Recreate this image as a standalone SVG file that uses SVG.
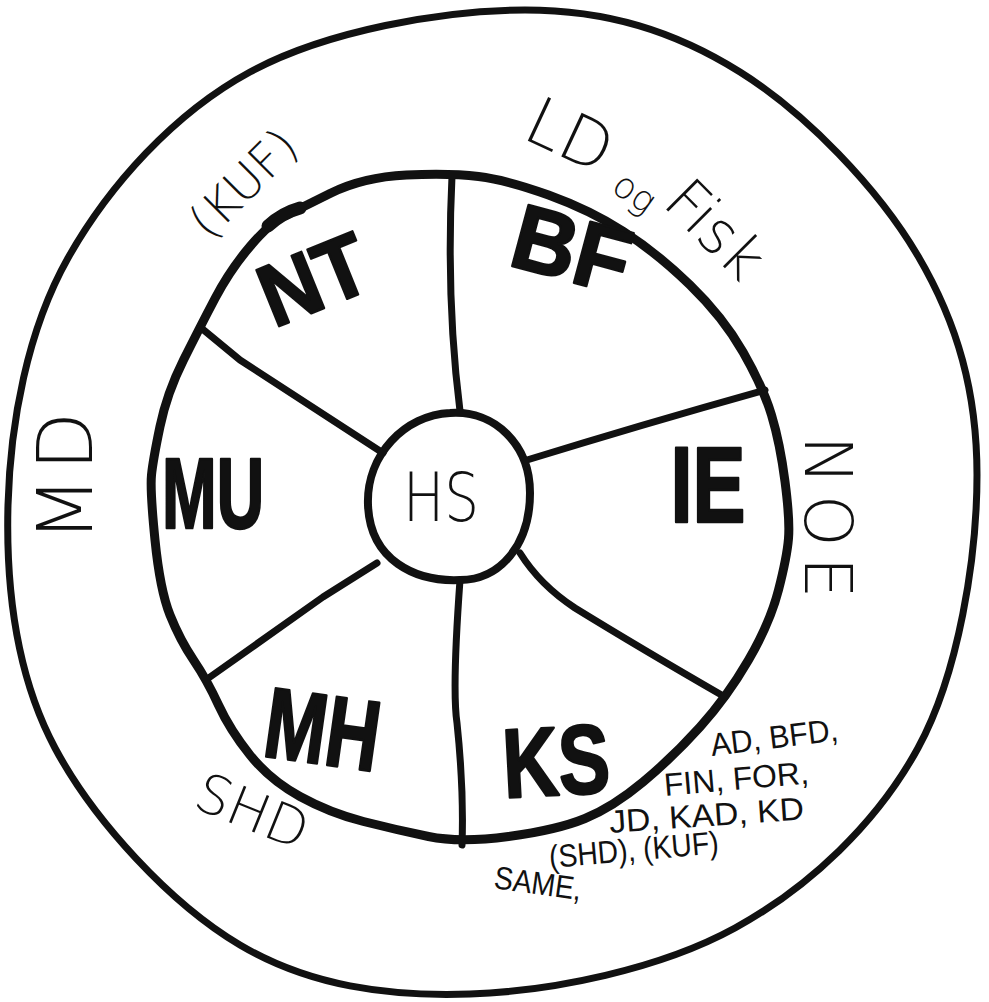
<svg xmlns="http://www.w3.org/2000/svg" width="989" height="1002" viewBox="0 0 989 1002">
<style>
.ln{fill:none;stroke:#111;stroke-linecap:round;stroke-linejoin:round}
.big{font-family:"Liberation Sans",Arial,sans-serif;font-weight:bold;fill:#111;stroke:#111;stroke-width:2.5;stroke-linejoin:round;text-anchor:middle}
.thin{font-family:"DejaVu Sans",sans-serif;font-weight:200;fill:#111;text-anchor:middle}
.sm{font-family:"Liberation Sans",Arial,sans-serif;font-size:32px;fill:#111;text-anchor:start}
</style>
<rect width="989" height="1002" fill="#fff"/>
<g id="connectors">
<path class="ln" stroke-width="7" d="M452,176 Q446,300 460,411"/>
<path class="ln" stroke-width="7" d="M200,327 L240,360 L383,453"/>
<path class="ln" stroke-width="7" d="M527,460 Q640,425 765,390"/>
<path class="ln" stroke-width="7" d="M520,553 Q540,585 575,608 Q640,648 725,697"/>
<path class="ln" stroke-width="7" d="M460,580 Q452,690 457,723 Q464,790 462,845"/>
<path class="ln" stroke-width="7" d="M377,563 L323,597 L210,677"/>
</g>
<g id="outer"><path class="ln" stroke-width="7" d="M977,475 C977,557 958.8,673.3 918,748 C877.2,822.7 809.7,887 735,928 C660.3,969 552.5,991.2 470,994 C387.5,996.8 309.2,986 240,945 C170.8,904 94.2,821.3 55,748 C15.8,674.7 5.8,586.7 8,505 C10.2,423.3 27.2,330.2 68,258 C108.8,185.8 173.8,113.3 250,72 C326.2,30.7 443.3,10 525,10 C606.7,10 674.5,31 740,72 C805.5,113 878,188 918,256 C958,324 977,393 977,475 Z"/></g>
<g id="ring">
<path class="ln" stroke-width="9" d="M478.5,176.5 Q507,180 548.5,195 Q590,210 623.5,231.5 Q657,253 690,285 Q723,317 743,352 Q763,387 771.5,415 Q780,443 785,481.5 Q790,520 788.5,538.5 Q787,557 778.5,590 Q770,623 748.5,660 Q727,697 700,727 Q673,757 643,782 Q613,807 585,818.5 Q557,830 508.5,836.5 Q460,843 428.5,836.5 Q397,830 363.5,821.5 Q330,813 300,796.5 Q270,780 250,755 Q230,730 218.5,705 Q207,680 193.5,660 Q180,640 170,615 Q160,590 155,540 Q150,490 151.5,475 Q153,460 160,426.5 Q167,393 183.5,360 Q200,327 215,298.5 Q230,270 250,246.5 Q270,223 283.5,216.5 Q297,210 330,193.5 Q363,177 406.5,175 Q450,173 478.5,176.5 Z"/>
<path class="ln" stroke-width="13" d="M268,226 Q282,213 300,208"/>
</g>
<g id="HS"><path class="ln" stroke-width="8" d="M450,413 C495,410 530,445 530,493 C530,545 500,580 460,580 C415,582 370,560 368,505 C366,455 405,415 450,413 Z"/><text class="thin" x="441" y="521" font-size="68" textLength="76" lengthAdjust="spacingAndGlyphs">HS</text></g>
<g id="NT"><text class="big" x="313" y="310" font-size="88" textLength="110" lengthAdjust="spacingAndGlyphs" transform="rotate(-22 313 278)">NT</text></g>
<g id="BF"><text class="big" x="572" y="281" font-size="92" textLength="118" lengthAdjust="spacingAndGlyphs" transform="rotate(15 572 248)">BF</text></g>
<g id="MU"><text class="big" x="213" y="528" font-size="100" textLength="102" lengthAdjust="spacingAndGlyphs">MU</text></g>
<g id="IE"><text class="big" x="708" y="522" font-size="108" textLength="75" lengthAdjust="spacingAndGlyphs">IE</text></g>
<g id="MH"><text class="big" x="323" y="764" font-size="100" textLength="115" lengthAdjust="spacingAndGlyphs" transform="rotate(8 323 728)">MH</text></g>
<g id="KS"><text class="big" x="556" y="795" font-size="98" textLength="107" lengthAdjust="spacingAndGlyphs" transform="rotate(-3 556 760)">KS</text></g>
<g id="KUF"><text class="thin" font-size="48" x="243" y="200" transform="rotate(-45 243 183)">(KUF)</text></g>
<g id="LD"><text class="thin" font-size="66" x="570" y="158" transform="rotate(25 570 135)">LD</text>
<text class="thin" font-size="36" x="635" y="205" transform="rotate(35 635 192)">og</text>
<text class="thin" font-size="60" x="715" y="250" transform="rotate(45 715 230)">Fisk</text></g>
<g id="MD"><text class="thin" font-size="76" x="66" y="500" letter-spacing="6" transform="rotate(-90 66 474)">MD</text></g>
<g id="NOE"><text class="thin" font-size="66" x="828" y="545" letter-spacing="10" transform="rotate(90 828 522)">NOE</text></g>
<g id="SHD"><text class="thin" font-size="54" x="252" y="830" transform="rotate(22 252 812)">SHD</text></g>
<g id="list">
<text class="sm" x="712" y="756" textLength="128" lengthAdjust="spacingAndGlyphs" transform="rotate(-7 712 756)">AD, BFD,</text>
<text class="sm" x="665" y="796" textLength="145" lengthAdjust="spacingAndGlyphs" transform="rotate(-5 665 796)">FIN, FOR,</text>
<text class="sm" x="610" y="833" textLength="195" lengthAdjust="spacingAndGlyphs" transform="rotate(-4 610 833)">JD, KAD, KD</text>
<text class="sm" x="550" y="868" textLength="170" lengthAdjust="spacingAndGlyphs" transform="rotate(-5 550 868)">(SHD), (KUF)</text>
<text class="sm" x="493" y="888" textLength="88" lengthAdjust="spacingAndGlyphs" transform="rotate(8 493 888)">SAME,</text>
</g>
</svg>
